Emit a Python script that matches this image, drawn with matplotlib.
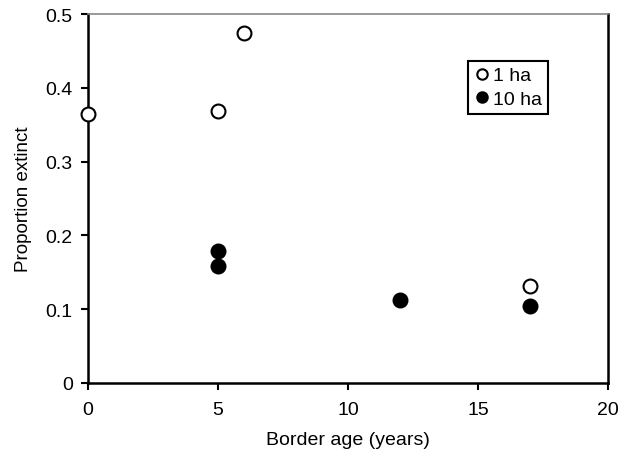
import matplotlib
matplotlib.use("Agg")
import matplotlib.pyplot as plt

plt.rcParams["font.family"] = ["Liberation Sans", "DejaVu Sans"]

# 1 ha plots (open circles)
age_1ha = [0, 5, 6, 17]
ext_1ha = [0.365, 0.368, 0.474, 0.131]

# 10 ha plots (filled circles)
age_10ha = [5, 5, 12, 17]
ext_10ha = [0.179, 0.158, 0.112, 0.104]

fig = plt.figure(figsize=(6.3, 4.52), dpi=100)
ax = fig.add_axes([88 / 630, 1 - 384 / 452, 520 / 630, 369 / 452])

ax.plot(age_1ha, ext_1ha, "o", ms=10, mfc="white", mec="black", mew=1.5,
        label="1 ha", clip_on=False, zorder=3)
ax.plot(age_10ha, ext_10ha, "o", ms=10, mfc="black", mec="black", mew=1.5,
        label="10 ha", clip_on=False, zorder=3)

ax.set_xlim(0, 20)
ax.set_ylim(0, 0.5)
ax.set_xticks([0, 5, 10, 15, 20])
ax.set_xticklabels(["0", "5", "10", "15", "20"])
ax.set_yticks([0, 0.1, 0.2, 0.3, 0.4, 0.5])
ax.set_yticklabels(["0", "0.1", "0.2", "0.3", "0.4", "0.5"])
ax.tick_params(direction="out", length=5, width=1.5, labelsize=14)
ax.tick_params(axis="x", pad=8)
ax.tick_params(axis="y", pad=6)

for side in ("left", "bottom", "right"):
    ax.spines[side].set_linewidth(1.8)
ax.spines["top"].set_linewidth(1.2)
ax.spines["top"].set_color("#888888")

ax.set_xlabel("Border age (years)", fontsize=14, labelpad=9)
ax.set_ylabel("Proportion extinct", fontsize=13.5, labelpad=10)

leg = ax.legend(loc="upper right", bbox_to_anchor=(0.885, 0.873),
                fontsize=14, handletextpad=0.2, handlelength=0.8,
                borderpad=0.3, labelspacing=0.3, fancybox=False,
                framealpha=1, markerscale=0.75, borderaxespad=0)
leg.get_frame().set_edgecolor("black")
leg.get_frame().set_linewidth(1.5)

fig.savefig("out.png", dpi=100)
